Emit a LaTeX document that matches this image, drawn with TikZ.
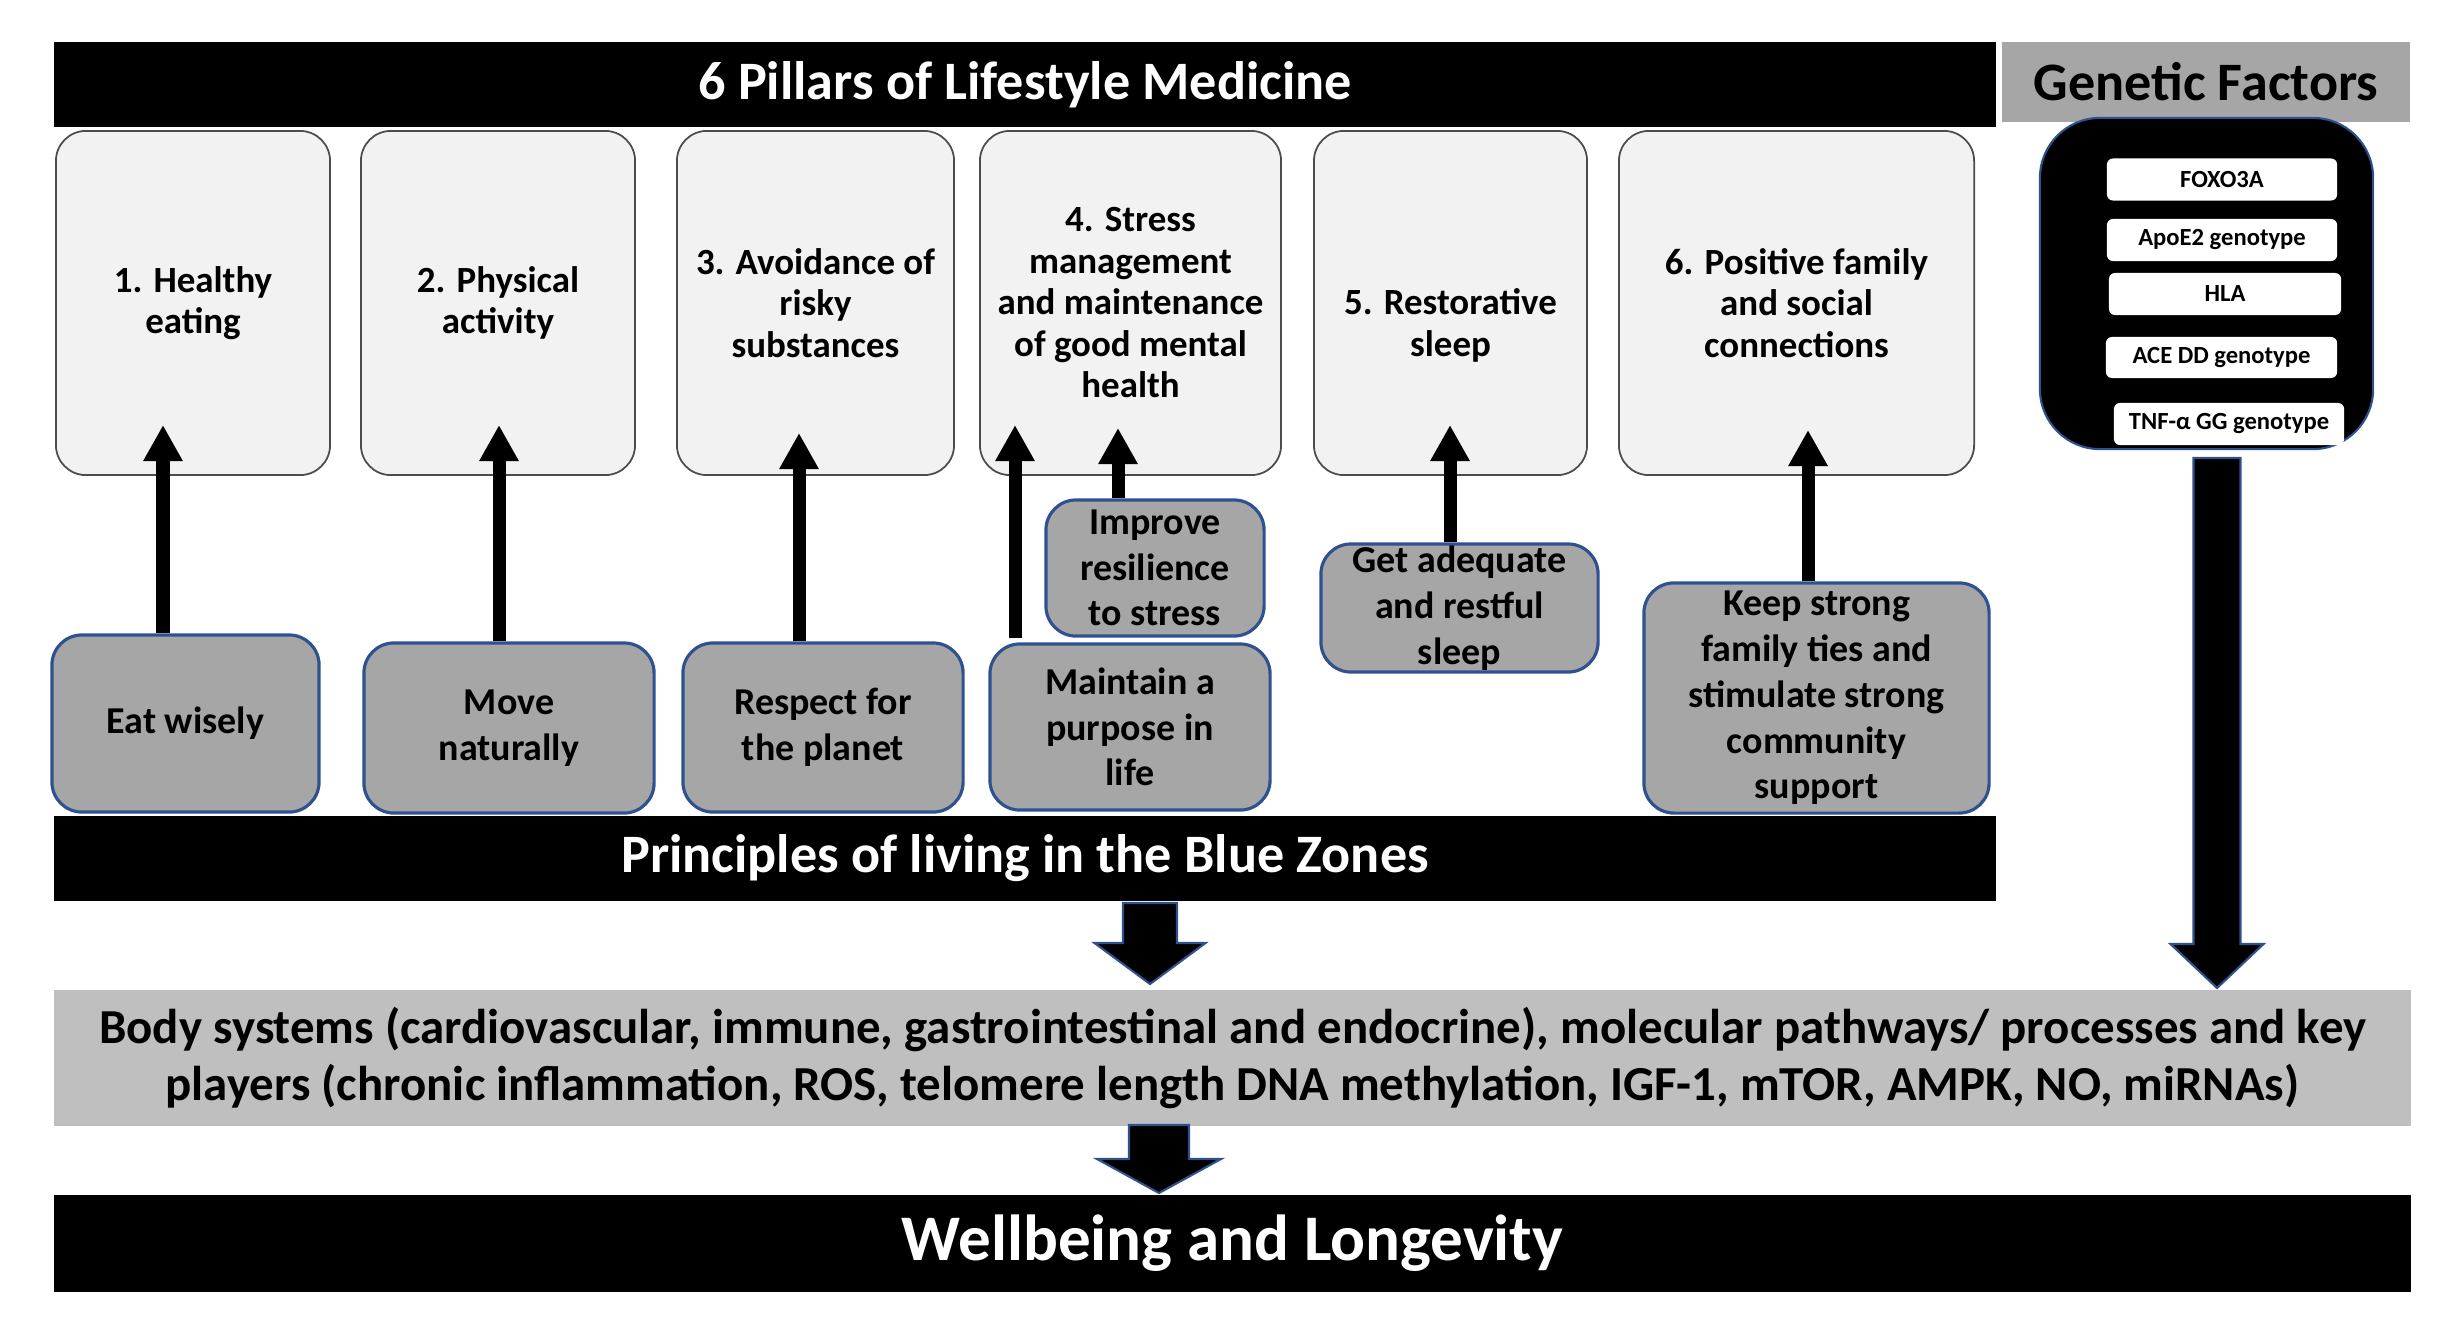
\documentclass[tikz,border=0pt]{standalone}
\usepackage{fontspec}
\setmainfont{Carlito}
\usepackage{tikz}
\usetikzlibrary{positioning}
\usetikzlibrary{arrows.meta}
\usetikzlibrary{math}
\usetikzlibrary{calc}

\definecolor{pillarfill}{HTML}{F2F2F2}
\definecolor{zonefill}{HTML}{A6A6A6}
\definecolor{zoneline}{HTML}{2F528F}
\definecolor{bodyfill}{HTML}{BFBFBF}

% block arrow pointing down: centre, top, neck, tip, half shaft, half head
\newcommand{\blockdown}[6]{%
  \draw[blockarrow] ({#1-#5},#2) -- ({#1+#5},#2) -- ({#1+#5},#3) -- ({#1+#6},#3)
    -- (#1,#4) -- ({#1-#6},#3) -- ({#1-#5},#3) -- cycle;}

\begin{document}
\begin{tikzpicture}[x=0.01cm,y=-0.01cm,
  bar/.style={fill=black,text=white,inner sep=0pt,font=\bfseries\fontsize{15.4}{18}\selectfont},
  pillar/.style={draw=black!70,line width=0.5pt,fill=pillarfill,rounded corners=0.3cm,
    minimum height=3.44cm,align=center,inner sep=1pt,font=\bfseries\fontsize{10.5}{11.8}\selectfont},
  zone/.style={draw=zoneline,line width=0.9pt,fill=zonefill,rounded corners=0.3cm,
    align=center,inner sep=0pt,font=\bfseries\fontsize{10.8}{13}\selectfont},
  gene/.style={fill=white,rounded corners=0.06cm,minimum width=2.3cm,minimum height=0.42cm,
    inner sep=0pt,font=\bfseries\fontsize{7}{8}\selectfont},
  uparrow/.style={line width=0.13cm,-{Triangle[width=0.37cm,length=0.36cm]}},
  blockarrow/.style={fill=black,draw=zoneline,line width=0.6pt,line join=miter},
]

  \useasboundingbox (0,0) rectangle (2452,1342);

  % headers
  \node[bar,minimum width=19.40cm,minimum height=0.85cm] (title) at (1025,84.5)
    {6 Pillars of Lifestyle Medicine};
  \node[bar,fill=zonefill,text=black,minimum width=4.08cm,minimum height=0.80cm] (genhead) at (2206,82)
    {Genetic Factors};

  % the six pillars
  \node[pillar,minimum width=2.74cm] (p1) at (193,303)    {1. Healthy\\eating};
  \node[pillar,minimum width=2.74cm] (p2) at (498,303)    {2. Physical\\activity};
  \node[pillar,minimum width=2.77cm] (p3) at (815.5,303)  {3. Avoidance of\\risky\\substances};
  \node[pillar,minimum width=3.01cm] (p4) at (1130.5,303) {4. Stress\\management\\and maintenance\\of good mental\\health};
  \node[pillar,minimum width=2.73cm,text height=32pt] (p5) at (1450.5,303) {5. Restorative\\sleep};
  \node[pillar,minimum width=3.55cm] (p6) at (1796.5,303) {6. Positive family\\and social\\connections};

  % blue zones principles
  \node[zone,minimum width=2.67cm,minimum height=1.77cm] (eat)     at (185.5,723.5) {Eat wisely};
  \node[zone,minimum width=2.90cm,minimum height=1.70cm] (move)    at (509,728)     {Move\\naturally};
  \node[zone,minimum width=2.80cm,minimum height=1.69cm] (respect) at (823,727.5)   {Respect for\\the planet};
  \node[zone,minimum width=2.80cm,minimum height=1.66cm] (purpose) at (1130,727)    {Maintain a\\purpose in\\life};
  \node[zone,minimum width=2.18cm,minimum height=1.36cm] (resil)   at (1155,568)    {Improve\\resilience\\to stress};
  \node[zone,minimum width=2.77cm,minimum height=1.28cm] (sleep)   at (1459.5,608)  {Get adequate\\and restful\\sleep};
  \node[zone,minimum width=3.45cm,minimum height=2.30cm] (family)  at (1816.5,698)  {Keep strong\\family ties and\\stimulate strong\\community\\support};

  \node[bar,minimum width=19.40cm,minimum height=0.85cm] (blue) at (1025,858.5)
    {Principles of living in the Blue Zones};

  % arrow tips inside the pillars
  \coordinate (t1) at (163,425);
  \coordinate (t2) at (499,425);
  \coordinate (t3) at (799,433);
  \coordinate (t4) at (1015,425);
  \coordinate (t5) at (1118,428);
  \coordinate (t6) at (1450,425);
  \coordinate (t7) at (1808,430);

  \draw[uparrow] (eat.north -| t1) -- (t1);
  \draw[uparrow] (move.north -| t2) -- (t2);
  \draw[uparrow] (respect.north -| t3) -- (t3);
  \draw[uparrow] ([yshift=0.04cm]purpose.north -| t4) -- (t4);
  \draw[uparrow] (resil.north -| t5) -- (t5);
  \draw[uparrow] (sleep.north -| t6) -- (t6);
  \draw[uparrow] (family.north -| t7) -- (t7);

  % genetic factors
  \node[fill=black,draw=zoneline,line width=0.6pt,rounded corners=0.6cm,
    minimum width=3.33cm,minimum height=3.31cm] (genbox) at (2206.5,283.5) {};
  \node[gene] (foxo) at (2222,179.5) {FOXO3A};
  \node[gene] (apoe) at (2222,240)   {ApoE2 genotype};
  \node[gene,minimum width=2.32cm] (hla) at (2225,294) {HLA};
  \node[gene,minimum width=2.31cm,minimum height=0.41cm] (ace) at (2221.5,357.5) {ACE DD genotype};
  \node[gene] (tnf) at (2229,424) {TNF-α GG genotype};

  % body systems and outcome
  \node[fill=bodyfill,minimum width=23.55cm,minimum height=1.36cm,align=center,inner sep=0pt,
    font=\bfseries\fontsize{13.9}{16}\selectfont] (body) at (1232.5,1058)
    {Body systems (cardiovascular, immune, gastrointestinal and endocrine), molecular pathways/ processes and key\\
     players (chronic inflammation, ROS, telomere length DNA methylation, IGF-1, mTOR, AMPK, NO, miRNAs)};
  \node[bar,minimum width=23.55cm,minimum height=0.97cm,font=\bfseries\fontsize{18.5}{22}\selectfont] (well)
    at (1232.5,1243.5) {Wellbeing and Longevity};

  % block arrows
  \blockdown{1150}{903}{943}{984}{27}{55.5}
  \blockdown{1159}{1125}{1159}{1193}{30}{62}
  \blockdown{2217}{458}{944}{988}{23.5}{46.5}

\end{tikzpicture}
\end{document}
